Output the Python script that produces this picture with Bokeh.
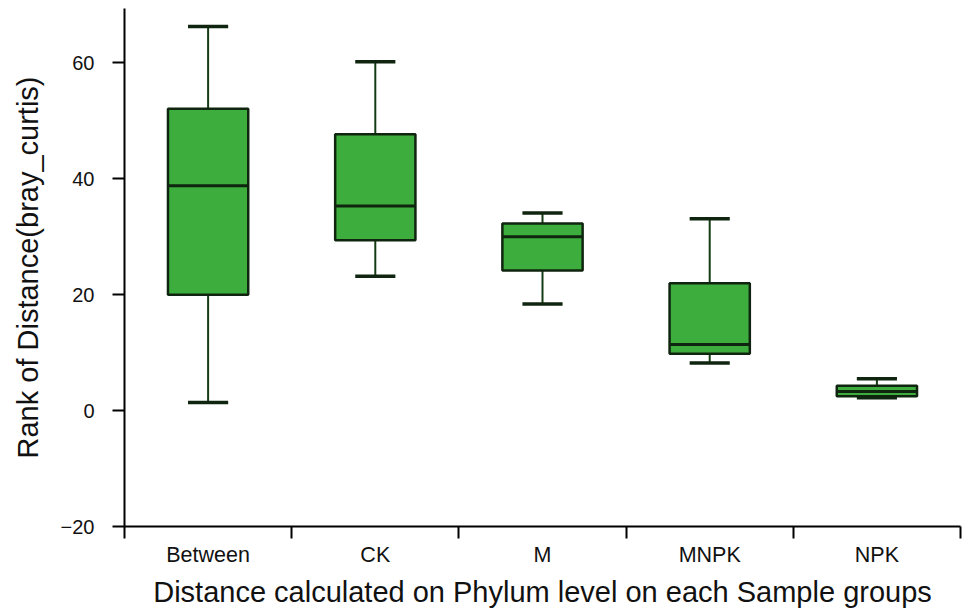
from bokeh.plotting import figure
from bokeh.models import FixedTicker, Range1d
from bokeh.embed import file_html
from bokeh.resources import INLINE

# ---- data ----
categories = ["Between", "CK", "M", "MNPK", "NPK"]
whisker_low = [1.4, 23.2, 18.4, 8.2, 2.2]
q1 = [20.0, 29.4, 24.2, 9.8, 2.5]
median = [38.8, 35.3, 30.0, 11.4, 3.3]
q3 = [52.1, 47.7, 32.3, 22.0, 4.3]
whisker_high = [66.3, 60.2, 34.1, 33.1, 5.5]
y_ticks = [-20, 0, 20, 40, 60]

xs = list(range(1, len(categories) + 1))
box_w = 0.48
cap_w = 0.24

FONT = "Liberation Sans"
TXT = "#111111"
FILL = "#3dae3d"
EDGE = "#0f250f"
WHISK = "#143c14"

p = figure(width=962, height=610, output_backend="svg", toolbar_location=None,
           x_range=Range1d(0.5, len(categories) + 0.5), y_range=Range1d(-20, 69.4),
           min_border_left=124, min_border_right=2, min_border_top=8, min_border_bottom=0)
p.outline_line_color = None
p.xgrid.grid_line_color = None
p.ygrid.grid_line_color = None
p.background_fill_color = "white"
p.border_fill_color = "white"

# whiskers
p.segment(x0=xs, y0=q3, x1=xs, y1=whisker_high, line_color=WHISK, line_width=2)
p.segment(x0=xs, y0=q1, x1=xs, y1=whisker_low, line_color=WHISK, line_width=2)
# caps
p.segment(x0=[x - cap_w / 2 for x in xs], y0=whisker_high,
          x1=[x + cap_w / 2 for x in xs], y1=whisker_high, line_color=EDGE, line_width=3.5)
p.segment(x0=[x - cap_w / 2 for x in xs], y0=whisker_low,
          x1=[x + cap_w / 2 for x in xs], y1=whisker_low, line_color=EDGE, line_width=3.5)
# boxes
p.vbar(x=xs, width=box_w, top=q3, bottom=q1, fill_color=FILL, line_color=EDGE, line_width=2.5)
# medians
p.segment(x0=[x - box_w / 2 for x in xs], y0=median,
          x1=[x + box_w / 2 for x in xs], y1=median, line_color=EDGE, line_width=3)

# y axis
ya = p.yaxis[0]
ya.ticker = FixedTicker(ticks=y_ticks, minor_ticks=[])
ya.axis_label = "Rank of Distance(bray_curtis)"
ya.axis_line_color = "black"
ya.axis_line_width = 2
ya.major_tick_line_color = "black"
ya.major_tick_line_width = 2
ya.major_tick_out = 12
ya.major_tick_in = 0
ya.minor_tick_line_color = None
ya.major_label_standoff = 18
ya.major_label_text_font = FONT
ya.major_label_text_font_size = "20px"
ya.major_label_text_color = TXT
ya.axis_label_text_font = FONT
ya.axis_label_text_font_size = "29px"
ya.axis_label_text_font_style = "normal"
ya.axis_label_text_color = TXT
ya.axis_label_standoff = 14

# x axis: labels at category centres, ticks at category boundaries
xa = p.xaxis[0]
xa.ticker = FixedTicker(ticks=xs, minor_ticks=[x - 0.5 for x in xs] + [xs[-1] + 0.5])
xa.major_label_overrides = {x: c for x, c in zip(xs, categories)}
xa.axis_label = "Distance calculated on Phylum level on each Sample groups"
xa.axis_line_color = "black"
xa.axis_line_width = 2
xa.major_tick_line_color = None
xa.major_tick_out = 0
xa.major_tick_in = 0
xa.minor_tick_line_color = "black"
xa.minor_tick_line_width = 2
xa.minor_tick_out = 12
xa.minor_tick_in = 0
xa.major_label_standoff = 4
xa.major_label_text_font = FONT
xa.major_label_text_font_size = "21.5px"
xa.major_label_text_color = TXT
xa.axis_label_text_font = FONT
xa.axis_label_text_font_size = "29px"
xa.axis_label_text_font_style = "normal"
xa.axis_label_text_color = TXT
xa.axis_label_standoff = 6

open("out.html", "w").write(file_html(p, INLINE))
